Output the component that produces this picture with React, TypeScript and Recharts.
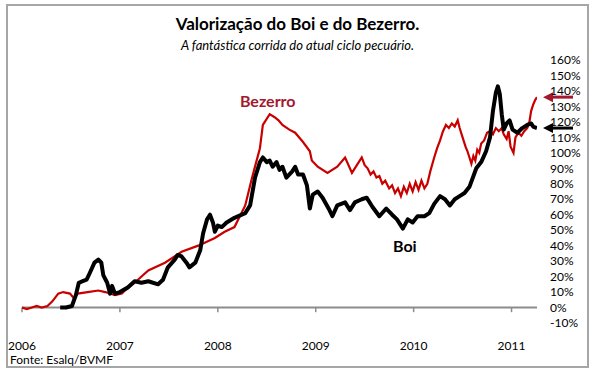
import React from "react";
import {
  LineChart,
  Line,
  XAxis,
  YAxis,
  ReferenceLine,
  ReferenceDot,
} from "recharts";

// [year as decimal, valorização %]
const bezerro: [number, number][] = [
  [2006.0, 0], [2006.05, -1], [2006.1, 0], [2006.15, 1], [2006.2, 0], [2006.26, 1],
  [2006.31, 4], [2006.37, 9], [2006.42, 10], [2006.49, 9], [2006.53, 6], [2006.57, 9],
  [2006.67, 10], [2006.78, 11], [2006.85, 10], [2006.95, 8], [2007.02, 9], [2007.05, 11],
  [2007.15, 16], [2007.29, 24], [2007.46, 29], [2007.63, 36], [2007.8, 40], [2007.97, 45],
  [2008.07, 49], [2008.17, 52], [2008.28, 66], [2008.35, 84], [2008.43, 103], [2008.46, 118],
  [2008.53, 125], [2008.58, 123], [2008.62, 121], [2008.66, 118], [2008.73, 115], [2008.79, 113],
  [2008.87, 107], [2008.94, 101], [2008.96, 95], [2009.02, 91], [2009.12, 87], [2009.22, 91],
  [2009.3, 97], [2009.37, 87], [2009.42, 92], [2009.47, 97], [2009.5, 92], [2009.53, 90],
  [2009.56, 86], [2009.59, 88], [2009.62, 84], [2009.65, 85], [2009.68, 80], [2009.71, 82],
  [2009.75, 77], [2009.78, 79], [2009.81, 74], [2009.84, 77], [2009.87, 72], [2009.9, 78],
  [2009.93, 74], [2009.96, 80], [2009.99, 75], [2010.02, 81], [2010.05, 76], [2010.08, 82],
  [2010.11, 77], [2010.14, 80], [2010.17, 88], [2010.21, 97], [2010.24, 103], [2010.27, 108],
  [2010.3, 114], [2010.33, 118], [2010.36, 116], [2010.39, 119], [2010.42, 117], [2010.45, 121],
  [2010.47, 116], [2010.5, 110], [2010.53, 104], [2010.55, 101], [2010.57, 97], [2010.59, 93],
  [2010.61, 98], [2010.63, 95], [2010.65, 102], [2010.67, 100], [2010.69, 106], [2010.72, 108],
  [2010.75, 113], [2010.78, 114], [2010.81, 112], [2010.84, 116], [2010.87, 114], [2010.9, 116],
  [2010.92, 112], [2010.95, 109], [2010.97, 114], [2010.99, 104], [2011.02, 100], [2011.04, 110],
  [2011.07, 113], [2011.1, 111], [2011.13, 114], [2011.16, 116], [2011.18, 119], [2011.2, 127],
  [2011.22, 131], [2011.24, 134], [2011.26, 136],
];

const boi: [number, number][] = [
  [2006.39, 0], [2006.45, 0], [2006.51, 1], [2006.55, 8], [2006.58, 16], [2006.62, 17],
  [2006.66, 18], [2006.69, 22], [2006.74, 29], [2006.78, 31], [2006.81, 29], [2006.83, 21],
  [2006.87, 16], [2006.9, 9], [2006.92, 14], [2006.95, 9], [2007.0, 10], [2007.08, 13],
  [2007.15, 17], [2007.22, 16], [2007.29, 17], [2007.39, 15], [2007.44, 18], [2007.49, 26],
  [2007.56, 31], [2007.59, 34], [2007.63, 33], [2007.68, 29], [2007.71, 26], [2007.77, 29],
  [2007.82, 37], [2007.85, 48], [2007.89, 57], [2007.92, 60], [2007.95, 55], [2007.97, 49],
  [2008.0, 53], [2008.04, 52], [2008.09, 55], [2008.17, 58], [2008.28, 61], [2008.33, 66],
  [2008.38, 84], [2008.43, 94], [2008.46, 97], [2008.5, 94], [2008.53, 95], [2008.56, 91],
  [2008.6, 94], [2008.63, 89], [2008.66, 91], [2008.7, 84], [2008.76, 88], [2008.79, 91],
  [2008.82, 86], [2008.87, 86], [2008.91, 79], [2008.94, 64], [2008.97, 73], [2009.02, 75],
  [2009.07, 71], [2009.14, 63], [2009.17, 59], [2009.22, 66], [2009.3, 68], [2009.35, 63],
  [2009.4, 68], [2009.47, 70], [2009.52, 71], [2009.58, 65], [2009.65, 59], [2009.72, 64],
  [2009.78, 60], [2009.83, 57], [2009.89, 51], [2009.94, 57], [2009.99, 55], [2010.04, 59],
  [2010.11, 59], [2010.16, 61], [2010.21, 67], [2010.27, 72], [2010.32, 70], [2010.37, 66],
  [2010.42, 70], [2010.47, 72], [2010.52, 74], [2010.57, 78], [2010.64, 90], [2010.69, 94],
  [2010.74, 101], [2010.78, 110], [2010.81, 127], [2010.84, 139], [2010.86, 143], [2010.88, 138],
  [2010.9, 125], [2010.92, 115], [2010.95, 119], [2010.98, 121], [2011.01, 115], [2011.06, 113],
  [2011.11, 116], [2011.16, 118], [2011.2, 119], [2011.22, 117], [2011.26, 116],
];

const years = [2006, 2007, 2008, 2009, 2010, 2011];
const pctTicks = [-10, 0, 10, 20, 30, 40, 50, 60, 70, 80, 90, 100, 110, 120, 130, 140, 150, 160];

const title = "Valorização do Boi e do Bezerro.";
const subtitle = "A fantástica corrida do atual ciclo pecuário.";
const source = "Fonte: Esalq/BVMF";

const RED = "#c80000";
const DARK_RED = "#a3182e";
const FONT = "Lato, 'Open Sans', sans-serif";

const toRows = (pts: [number, number][]) => pts.map(([t, v]) => ({ t, v }));

// arrow pointing left at the last value, drawn just right of the plot
const arrow = (color: string) => (p: any) => {
  const tip = p.cx + 6;
  const y = p.cy;
  return (
    <g>
      <line x1={tip + 8} y1={y} x2={tip + 30} y2={y} stroke={color} strokeWidth={3} />
      <polygon points={`${tip},${y} ${tip + 10},${y - 5} ${tip + 10},${y + 5}`} fill={color} />
    </g>
  );
};

const textMark = (label: string, color: string) => (p: any) => (
  <text
    x={p.cx}
    y={p.cy}
    textAnchor="middle"
    dominantBaseline="central"
    fill={color}
    fontSize={16}
    fontWeight="bold"
    fontFamily={FONT}
  >
    {label}
  </text>
);

export default function App() {
  const bez = toRows(bezerro);
  const bo = toRows(boi);
  const lastBez = bez[bez.length - 1];
  const lastBoi = bo[bo.length - 1];

  return (
    <div
      style={{
        position: "absolute",
        left: 0,
        top: 0,
        width: 591,
        height: 373,
        background: "#fff",
        fontFamily: FONT,
      }}
    >
      <div
        style={{
          position: "absolute",
          left: 6,
          top: 4,
          width: 583,
          height: 364,
          boxSizing: "border-box",
          border: "2px solid #a6a6a6",
        }}
      />
      <div
        style={{
          position: "absolute",
          left: 0,
          width: 591,
          top: 14,
          lineHeight: "20px",
          textAlign: "center",
          fontSize: 17,
          fontWeight: "bold",
          color: "#000",
          paddingLeft: 4,
          boxSizing: "border-box",
        }}
      >
        {title}
      </div>
      <div
        style={{
          position: "absolute",
          left: 0,
          width: 591,
          top: 37,
          lineHeight: "16px",
          textAlign: "center",
          fontSize: 13,
          fontStyle: "italic",
          color: "#000",
          paddingLeft: 4,
          boxSizing: "border-box",
        }}
      >
        {subtitle}
      </div>

      <LineChart
        width={591}
        height={373}
        margin={{ top: 60, right: 4, bottom: 20, left: 22 }}
        style={{ position: "absolute", left: 0, top: 0 }}
      >
        <XAxis
          type="number"
          dataKey="t"
          domain={[2006, 2011.26]}
          allowDataOverflow
          ticks={years}
          interval={0}
          axisLine={false}
          tickLine={false}
          tickMargin={12}
          height={30}
          tick={{ fill: "#000", fontSize: 12, fontFamily: FONT }}
        />
        <YAxis
          orientation="right"
          domain={[-10, 160]}
          ticks={pctTicks}
          interval={0}
          axisLine={false}
          tickLine={false}
          tickMargin={7}
          width={50}
          tickFormatter={(v) => `${v}%`}
          tick={{ fill: "#000", fontSize: 12, fontFamily: FONT, textAnchor: "start" }}
        />
        <ReferenceLine y={0} stroke="#8c8c8c" strokeWidth={2} />
        {years.map((yr) => (
          <ReferenceLine
            key={yr}
            segment={[
              { x: yr, y: 0 },
              { x: yr, y: -3 },
            ]}
            stroke="#8c8c8c"
            strokeWidth={1.5}
          />
        ))}
        <Line
          data={bez}
          dataKey="v"
          type="linear"
          stroke={RED}
          strokeWidth={2.2}
          dot={false}
          isAnimationActive={false}
        />
        <Line
          data={bo}
          dataKey="v"
          type="linear"
          stroke="#000"
          strokeWidth={4}
          strokeLinejoin="round"
          dot={false}
          isAnimationActive={false}
        />
        <ReferenceDot x={2008.51} y={133.5} r={0} shape={textMark("Bezerro", DARK_RED)} />
        <ReferenceDot x={2009.91} y={39.8} r={0} shape={textMark("Boi", "#000")} />
        <ReferenceDot
          x={lastBez.t}
          y={lastBez.v}
          r={0}
          ifOverflow="visible"
          shape={arrow(DARK_RED)}
        />
        <ReferenceDot
          x={lastBoi.t}
          y={lastBoi.v}
          r={0}
          ifOverflow="visible"
          shape={arrow("#000")}
        />
      </LineChart>

      <div
        style={{
          position: "absolute",
          left: 10,
          top: 352,
          lineHeight: "16px",
          fontSize: 12,
          color: "#000",
        }}
      >
        {source}
      </div>
    </div>
  );
}
